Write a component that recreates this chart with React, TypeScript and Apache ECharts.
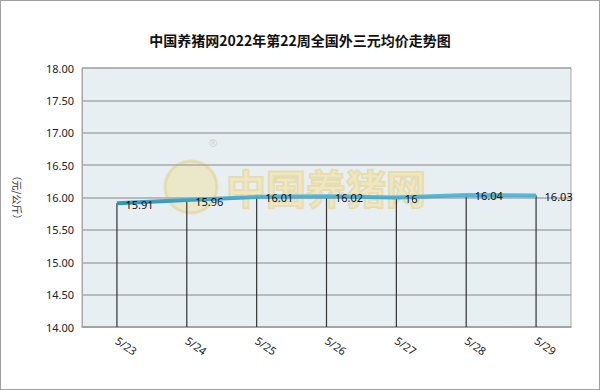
import React, { useEffect, useRef } from "react";
import * as echarts from "echarts";

const categories = ["5/23", "5/24", "5/25", "5/26", "5/27", "5/28", "5/29"];
const prices = [15.91, 15.96, 16.01, 16.02, 16.0, 16.04, 16.03];
const priceLabels = ["15.91", "15.96", "16.01", "16.02", "16", "16.04", "16.03"];
const titleText = "中国养猪网2022年第22周全国外三元均价走势图";
const yName = "（元/公斤）";

export default function App() {
  const ref = useRef<HTMLDivElement>(null);
  useEffect(() => {
    document.body.style.margin = "0";
    const chart = echarts.init(ref.current!, null, { renderer: "svg" });
    chart.setOption({
      animation: false,
      backgroundColor: "#ffffff",
      title: {
        text: titleText,
        left: "center",
        top: 27,
        textStyle: { fontFamily: "Noto Sans CJK SC", fontSize: 14, fontWeight: "bold", color: "#111" },
      },
      graphic: [
        {
          type: "circle",
          shape: { cx: 190, cy: 186, r: 26 },
          style: { fill: "rgba(240,222,150,0.45)", stroke: "rgba(225,205,130,0.5)", lineWidth: 3 },
          z: 0,
        },
        {
          type: "text",
          x: 208,
          y: 136,
          style: { text: "®", fontSize: 11, fill: "rgba(200,190,160,0.7)" },
          z: 0,
        },
        {
          type: "text",
          x: 225,
          y: 166,
          style: {
            text: "中国养猪网",
            fontFamily: "Noto Sans CJK SC",
            fontWeight: "bold",
            fontSize: 40,
            fill: "rgba(245,225,150,0.55)",
            stroke: "rgba(220,200,130,0.5)",
            lineWidth: 2,
          },
          z: 0,
        },
      ],
      grid: {
        left: 81,
        right: 28,
        top: 67,
        bottom: 62,
        show: true,
        backgroundColor: "#e8eff3",
        borderColor: "#a8a8a8",
        borderWidth: 1,
      },
      xAxis: {
        type: "category",
        data: categories,
        boundaryGap: true,
        axisLine: { lineStyle: { color: "#a0a0a0", width: 1.5 } },
        axisTick: { inside: true, length: 4, lineStyle: { color: "#a0a0a0" } },
        axisLabel: { rotate: -35, fontSize: 11, color: "#222", margin: 12, fontFamily: "Noto Sans" },
      },
      yAxis: {
        type: "value",
        min: 14,
        max: 18,
        interval: 0.5,
        name: yName,
        nameLocation: "middle",
        nameRotate: -90,
        nameGap: 60,
        nameTextStyle: { fontSize: 10, color: "#333", fontFamily: "Noto Sans CJK SC" },
        axisLine: { show: true, lineStyle: { color: "#a8a8a8" } },
        axisTick: { show: false },
        splitLine: { lineStyle: { color: "#a8a8a8", width: 1.5 } },
        axisLabel: {
          fontSize: 11,
          color: "#222",
          margin: 8,
          fontFamily: "Noto Sans",
          formatter: (v: number) => v.toFixed(2),
        },
      },
      series: [
        {
          type: "bar",
          data: prices,
          barWidth: 1.2,
          itemStyle: { color: "#333333" },
          z: 2,
          silent: true,
        },
        {
          type: "line",
          data: prices,
          symbol: "circle",
          symbolSize: 1,
          showSymbol: true,
          itemStyle: { color: "#3aa4c8" },
          lineStyle: {
            width: 4,
            color: new echarts.graphic.LinearGradient(0, 0, 0, 1, [
              { offset: 0, color: "#5ab8d8" },
              { offset: 1, color: "#2e94bb" },
            ]),
          },
          z: 3,
          label: {
            show: true,
            position: "right",
            distance: 8,
            offset: [0, 1],
            fontSize: 11,
            color: "#111",
            fontFamily: "Noto Sans",
            formatter: (p: any) => priceLabels[p.dataIndex],
          },
        },
      ],
    });
    return () => chart.dispose();
  }, []);
  return (
    <div
      style={{
        width: 600,
        height: 390,
        boxSizing: "border-box",
        border: "1px solid #a0a0a0",
        position: "relative",
      }}
    >
      <div ref={ref} style={{ width: 598, height: 388 }} />
    </div>
  );
}
